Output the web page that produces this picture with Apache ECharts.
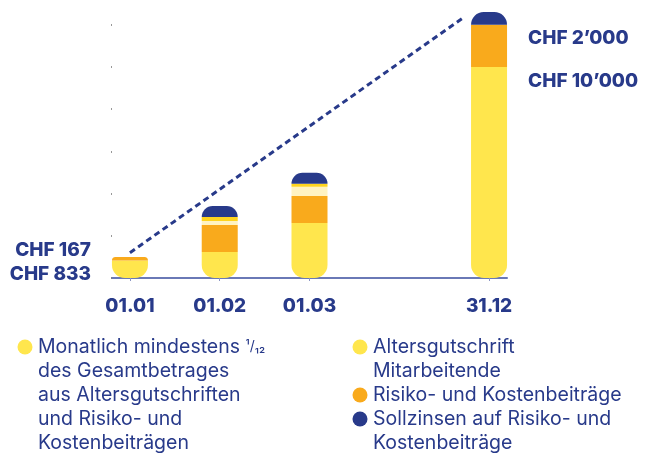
<!DOCTYPE html>
<html>
<head>
<meta charset="utf-8">
<script src="https://cdn.jsdelivr.net/npm/echarts@6/dist/echarts.min.js"></script>
<style>
  html, body { margin: 0; padding: 0; background: #fff; }
  #chart { width: 654px; height: 453px; }
</style>
</head>
<body>
<div id="chart"></div>
<script>
// x positions (0,1,2 = Monate, 4 = Jahresende) und Beschriftungen
var positions = [0, 1, 2, 4];
var dates = ['01.01', '01.02', '01.03', '31.12'];

// Segmente der gestapelten Säulen (CHF)
var altersgutschrift = [833, 1230, 2610, 10000];
var risiko = [167, 1280, 1280, 2000];
var hell = [0, 190, 430, 0];
var gelbStreifen = [0, 190, 140, 0];
var sollzinsen = [0, 520, 520, 620];

// gestrichelte Linie (x, CHF)
var trend = [[0, 1200], [3.71, 12320]];

var yTicks = [0, 2000, 4000, 6000, 8000, 10000, 12000];

var legendLeft = 'Monatlich mindestens {s|¹/₁₂}\ndes Gesamtbetrages\naus Altersgutschriften\nund Risiko- und\nKostenbeiträgen';
var legendRight = 'Altersgutschrift\nMitarbeitende\nRisiko- und Kostenbeiträge\nSollzinsen auf Risiko- und\nKostenbeiträge';

var NAVY = '#283a8a';
var YELLOW = '#ffe64d';
var ORANGE = '#f9aa1c';
var PALE = '#fff3c2';
var GOLD = '#ffd41f';
var FAMILY = "Inter, 'Open Sans', sans-serif";

var chart = echarts.init(document.getElementById('chart'), null, { renderer: 'canvas' });

// Wert zuerst, damit der Stapel auf der y-Dimension rechnet
function seg(values, opts) {
    var out = [];
    for (var i = 0; i < values.length; i++) {
        var item = { value: [values[i], positions[i]] };
        if (opts && opts[i]) {
            for (var k in opts[i]) item[k] = opts[i][k];
        }
        out.push(item);
    }
    return out;
}

var boldLabel = { show: true, verticalAlign: 'middle', color: NAVY, fontSize: 19, fontWeight: 800, fontFamily: FAMILY };
function lbl(pos, align, text) {
    return Object.assign({}, boldLabel, { position: pos, align: align, formatter: text });
}

var yellowOpts = [
    { label: lbl([-21, 14], 'right', 'CHF 833') },
    null, null,
    { label: lbl([57, 14], 'left', 'CHF 10’000') }
];
var orangeOpts = [
    { label: lbl([-21, -7], 'right', 'CHF 167'), itemStyle: { borderRadius: [6, 6, 0, 0] } },
    null, null,
    { label: lbl([57, 14], 'left', 'CHF 2’000') }
];

function barSeries(name, color, values, radius, opts) {
    return {
        type: 'bar',
        name: name,
        stack: 'total',
        barWidth: 36,
        encode: { x: 1, y: 0 },
        itemStyle: { color: color, borderRadius: radius },
        data: seg(values, opts)
    };
}

var legendFont = '19.5px ' + FAMILY;
var dotsRight = [[0, YELLOW], [2, ORANGE], [3, NAVY]];
var graphics = [
    { type: 'circle', shape: { cx: 25, cy: 347, r: 7.5 }, style: { fill: YELLOW } },
    { type: 'text', x: 38, y: 335, style: { text: legendLeft, font: legendFont, fill: NAVY, lineHeight: 24, verticalAlign: 'top',
        rich: { s: { fontSize: 14, fontFamily: FAMILY, fill: NAVY, lineHeight: 24 } } } },
    { type: 'text', x: 373, y: 335, style: { text: legendRight, font: legendFont, fill: NAVY, lineHeight: 24, verticalAlign: 'top' } }
];
for (var d = 0; d < dotsRight.length; d++) {
    graphics.push({ type: 'circle', shape: { cx: 360, cy: 347 + 24 * dotsRight[d][0], r: 7.5 }, style: { fill: dotsRight[d][1] } });
}

var option = {
    animation: false,
    grid: { left: 112, right: 147, top: 12, bottom: 175 },
    xAxis: {
        type: 'value',
        min: -0.2,
        max: 4.2,
        splitLine: { show: false },
        axisLine: { show: true, onZero: false, lineStyle: { color: '#6a79b6', width: 2 } },
        axisTick: { show: true, customValues: positions, length: 3, lineStyle: { color: '#8a95c4' } },
        axisLabel: {
            customValues: positions,
            margin: 19,
            color: NAVY,
            fontSize: 19,
            fontWeight: 800,
            fontFamily: FAMILY,
            formatter: function (v) {
                var i = positions.indexOf(Math.round(v));
                return i >= 0 ? dates[i] : '';
            }
        }
    },
    yAxis: {
        type: 'value',
        min: 0,
        max: 12600,
        interval: 2000,
        splitLine: { show: false },
        axisLine: { show: false, onZero: false },
        axisLabel: { show: false },
        axisTick: { show: true, customValues: yTicks, length: 1, lineStyle: { color: '#777', width: 1.5 } }
    },
    graphic: graphics,
    series: [
        barSeries('Altersgutschrift Mitarbeitende', YELLOW, altersgutschrift, [0, 0, 13, 13], yellowOpts),
        barSeries('Risiko- und Kostenbeiträge', ORANGE, risiko, 0, orangeOpts),
        barSeries('hell', PALE, hell, 0),
        barSeries('gelb', GOLD, gelbStreifen, 0),
        barSeries('Sollzinsen auf Risiko- und Kostenbeiträge', NAVY, sollzinsen, [13, 13, 0, 0]),
        {
            type: 'line',
            name: 'trend',
            data: trend,
            symbol: 'none',
            z: 5,
            lineStyle: { color: NAVY, width: 3, type: [6, 4] }
        }
    ]
};
chart.setOption(option);
</script>
</body>
</html>
